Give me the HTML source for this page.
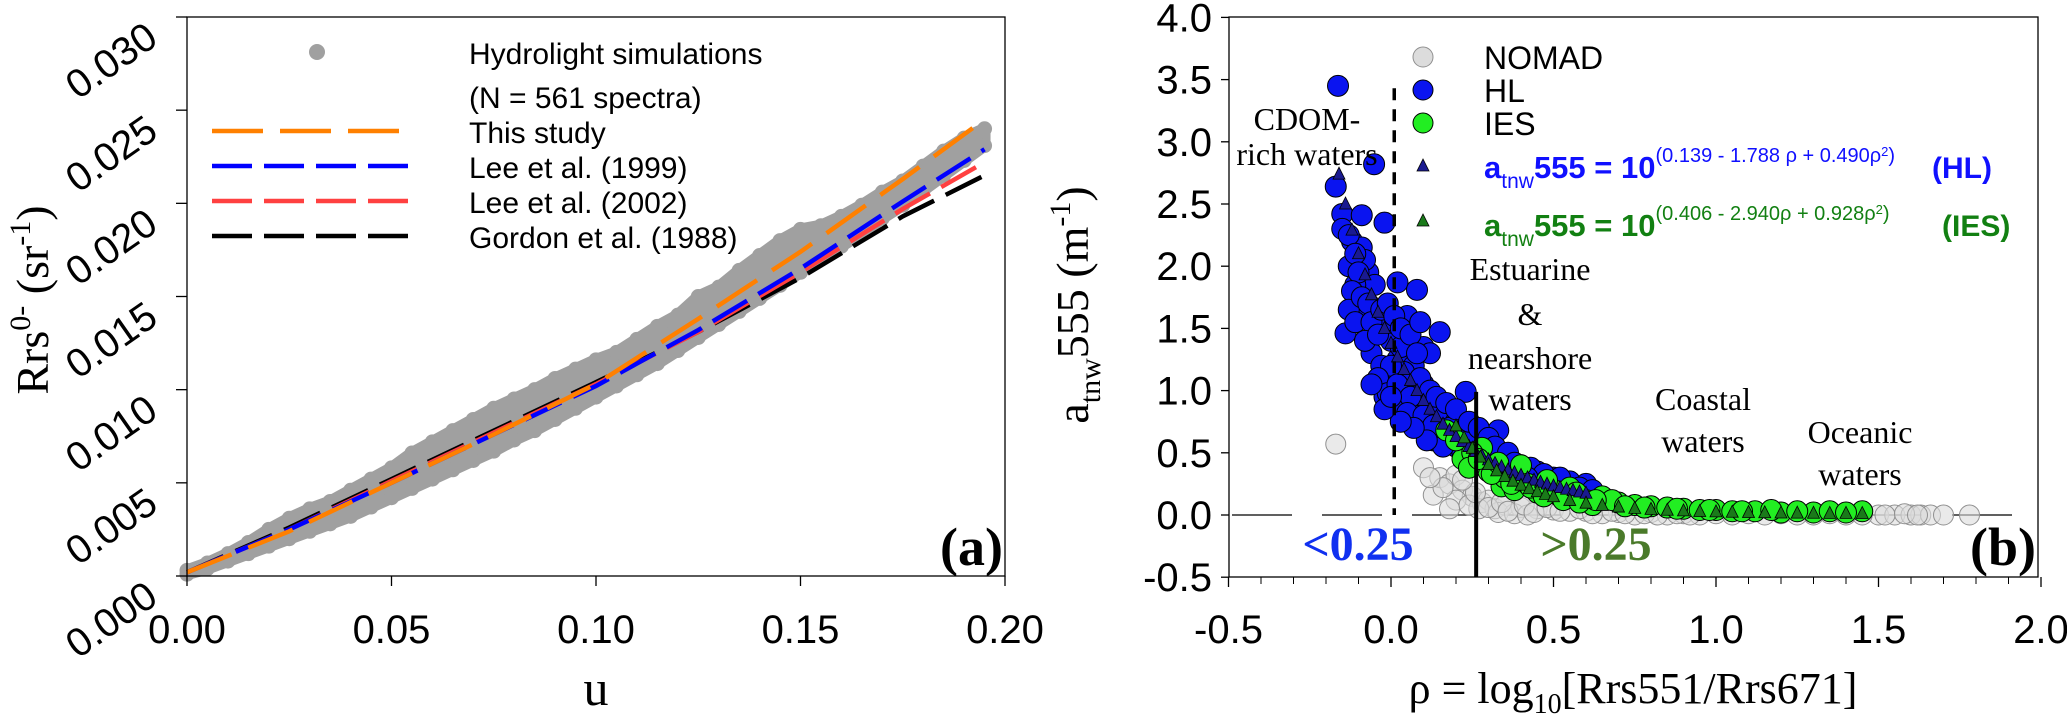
<!DOCTYPE html>
<html><head><meta charset="utf-8">
<style>
html,body{margin:0;padding:0;background:#fff;}
svg{display:block;}
text{font-family:"Liberation Sans",sans-serif;}
.serif{font-family:"Liberation Serif",serif;}
</style></head>
<body>
<svg id="fig" width="2067" height="720" viewBox="0 0 2067 720" xmlns="http://www.w3.org/2000/svg"></svg>
<script>
// ---------- Panel (a) data ----------
const lineU = [0,0.025,0.05,0.075,0.1,0.125,0.15,0.175,0.195];
const thisStudy = [0.0002,0.0024,0.0050,0.0076,0.0103,0.0138,0.0174,0.0213,0.0245];
const lee1999   = [0.0002,0.0025,0.0050,0.0076,0.0102,0.0132,0.0165,0.0201,0.0229];
const lee2002   = [0.0002,0.0025,0.0051,0.0077,0.0103,0.0131,0.0163,0.0197,0.0222];
const gordon1988= [0.0002,0.0026,0.0052,0.0078,0.0104,0.0131,0.0160,0.0193,0.0215];
const simU = [0,0.005,0.01,0.015,0.02,0.025,0.03,0.035,0.04,0.045,0.05,0.055,0.06,0.065,0.07,0.075,0.08,0.085,0.09,0.095,0.1,0.105,0.11,0.115,0.12,0.125,0.13,0.135,0.14,0.145,0.15,0.155,0.16,0.165,0.17,0.175,0.18,0.185,0.19,0.195];
const simUpper = [0.0003,0.0007,0.0012,0.0018,0.0025,0.0031,0.0036,0.0040,0.0046,0.0052,0.0058,0.0066,0.0072,0.0078,0.0084,0.0090,0.0095,0.0100,0.0106,0.0111,0.0116,0.0120,0.0127,0.0134,0.0140,0.0150,0.0155,0.0164,0.0172,0.0180,0.0186,0.0188,0.0193,0.0199,0.0206,0.0212,0.0220,0.0228,0.0235,0.0240];
const simLower = [0.0001,0.0004,0.0008,0.0012,0.0016,0.0020,0.0024,0.0028,0.0032,0.0037,0.0042,0.0047,0.0052,0.0057,0.0062,0.0067,0.0073,0.0078,0.0084,0.0090,0.0096,0.0102,0.0108,0.0114,0.0121,0.0128,0.0135,0.0142,0.0149,0.0156,0.0163,0.0170,0.0177,0.0184,0.0192,0.0199,0.0207,0.0215,0.0223,0.0231];
const xTicksA = ["0.00","0.05","0.10","0.15","0.20"];
const yTicksA = ["0.000","0.005","0.010","0.015","0.020","0.025","0.030"];

// ---------- Panel (b) data ----------
const hlRho = [-0.163,-0.052,-0.17,-0.15,-0.09,-0.02,-0.12,-0.09,-0.13,-0.07,-0.05,0.02,0.08,-0.14,-0.10,-0.08,-0.05,0.0,0.05,0.15,0.10,-0.06,-0.03,0.02,0.07,0.0,0.05,0.10,-0.02,0.03,0.08,0.12,0.16,0.23,0.20,0.15,0.10,0.25,0.30,0.33,0.35,0.40,0.45,0.50,0.55,0.60,0.20,0.13,0.08,0.0,-0.05,-0.11,-0.08,0.03,0.18,0.23,0.28,0.38,0.42,0.48,
 -0.15,-0.13,-0.11,-0.10,-0.12,-0.13,-0.11,-0.09,-0.07,-0.06,-0.08,-0.04,-0.03,-0.01,0.01,0.03,0.06,0.09,0.12,0.08,0.04,0.0,-0.04,-0.01,0.02,0.06,0.09,0.12,0.14,0.17,0.05,0.10,0.13,0.17,0.20,0.24,0.27,0.30,0.32,0.36,0.38,0.43,0.47,0.52,0.26,0.22,0.16,0.11,0.07,0.03,-0.02,0.0,-0.06,0.58,0.62,0.42];
const hlA   = [3.45,2.82,2.64,2.42,2.41,2.35,2.20,2.15,2.00,1.95,1.85,1.87,1.81,1.46,1.70,1.60,1.50,1.55,1.60,1.47,1.35,1.30,1.20,1.25,1.20,1.05,1.00,1.05,0.95,0.85,0.85,0.80,0.85,0.99,0.75,0.65,0.70,0.55,0.50,0.68,0.45,0.40,0.35,0.30,0.27,0.25,0.55,0.60,0.95,1.40,1.65,1.85,2.05,1.35,0.70,0.62,0.40,0.30,0.28,0.22,
 2.30,2.25,2.10,1.95,1.80,1.65,1.55,1.75,1.70,1.55,1.40,1.45,1.65,1.70,1.60,1.50,1.45,1.55,1.30,1.30,1.15,1.20,1.10,0.98,1.05,0.95,1.10,1.00,0.95,0.90,0.82,0.80,0.72,0.62,0.85,0.75,0.70,0.62,0.55,0.50,0.42,0.38,0.33,0.30,0.45,0.50,0.55,0.60,0.70,0.75,0.85,0.95,1.05,0.22,0.20,0.30];
const iesRho = [0.17,0.28,0.34,0.40,0.22,0.25,0.30,0.35,0.38,0.42,0.45,0.50,0.52,0.55,0.60,0.65,0.70,0.75,0.80,0.85,0.90,0.95,1.00,1.05,1.12,1.20,1.30,1.45,0.48,0.57,0.68,0.62,
 0.20,0.24,0.27,0.31,0.33,0.37,0.43,0.47,0.53,0.58,0.63,0.72,0.78,0.88,0.98,1.08,1.17,1.25,1.35,1.40];
const iesA   = [0.68,0.54,0.23,0.40,0.45,0.50,0.35,0.30,0.20,0.25,0.18,0.20,0.15,0.22,0.12,0.15,0.10,0.08,0.07,0.06,0.05,0.04,0.04,0.03,0.03,0.02,0.02,0.03,0.28,0.18,0.12,0.08,
 0.60,0.38,0.45,0.33,0.42,0.25,0.22,0.15,0.12,0.10,0.12,0.07,0.06,0.05,0.04,0.03,0.04,0.03,0.03,0.02];
const nomadRho = [-0.17,0.13,0.10,0.15,0.18,0.20,0.22,0.25,0.28,0.30,0.32,0.35,0.40,0.45,0.50,0.55,0.60,0.70,0.80,0.90,1.00,1.10,1.20,1.30,1.40,1.50,1.55,1.60,1.63,1.66,1.70,1.78,0.27,0.33,0.38,0.42,0.65,0.75,0.85,0.95,
 0.20,0.24,0.26,0.30,0.34,0.36,0.41,0.44,0.48,0.52,0.58,0.62,0.68,0.72,0.78,0.82,0.88,0.92,1.05,1.15,1.25,1.35,1.45,1.52,1.58,1.62,0.16,0.12,0.22,0.18];
const nomadA   = [0.57,0.16,0.38,0.30,0.25,0.32,0.20,0.15,0.10,0.12,0.05,0.08,0.06,0.05,0.04,0.03,0.03,0.02,0.02,0.01,0.01,0.01,0.01,0.0,0.0,0.0,0.0,0.0,0.0,0.0,0.0,0.0,0.05,0.02,0.01,0.0,0.01,0.0,0.0,0.0,
 0.12,0.08,0.18,0.06,0.10,0.03,0.08,0.02,0.06,0.03,0.05,0.01,0.03,0.01,0.01,0.0,0.01,0.0,0.0,0.0,0.0,0.01,0.0,0.0,0.01,0.0,0.22,0.30,0.28,0.05];
const hlModelRho = [-0.16,-0.14,-0.12,-0.10,-0.08,-0.06,-0.04,-0.02,0,0.02,0.04,0.06,0.08,0.10,0.12,0.14,0.16,0.18,0.20,0.22,0.24,0.26,0.28,0.30,0.32,0.34,0.36,0.38,0.40,0.42,0.44,0.46,0.48,0.50,0.52,0.54,0.56,0.58,0.60];
const hlModelA   = [2.74,2.50,2.29,2.10,1.93,1.77,1.63,1.50,1.38,1.27,1.17,1.08,1.00,0.92,0.85,0.79,0.73,0.68,0.63,0.59,0.55,0.51,0.475,0.443,0.414,0.387,0.362,0.339,0.318,0.298,0.280,0.263,0.248,0.233,0.220,0.207,0.196,0.185,0.175];
const iesModelRho = [0.20,0.225,0.25,0.275,0.30,0.325,0.35,0.375,0.40,0.425,0.45,0.475,0.50,0.55,0.60,0.65,0.70,0.75,0.80,0.85,0.90,0.95,1.00,1.05,1.10,1.15,1.20,1.25,1.30,1.35,1.40,1.45];
const iesModelA   = [0.716,0.62,0.536,0.465,0.405,0.355,0.310,0.272,0.239,0.211,0.187,0.166,0.147,0.117,0.095,0.077,0.064,0.053,0.045,0.038,0.033,0.028,0.025,0.022,0.020,0.018,0.016,0.015,0.014,0.013,0.013,0.012];
const xTicksB = ["-0.5","0.0","0.5","1.0","1.5","2.0"];
const yTicksB = ["-0.5","0.0","0.5","1.0","1.5","2.0","2.5","3.0","3.5","4.0"];

const NS = "http://www.w3.org/2000/svg";
const svg = document.getElementById('fig');
function mk(tag, attrs, parent){
  const e = document.createElementNS(NS, tag);
  for (const k in attrs) e.setAttribute(k, attrs[k]);
  (parent||svg).appendChild(e);
  return e;
}
const xA = u => 187 + (u/0.2)*818;
const yA = r => 576 - (r/0.030)*559;
const xB = p => 1391 + p*325;
const yB = a => 515 - a*124.4;

// ===== Panel (a) =====
const gA = mk('g',{});



let pts = simU.map((u,i)=>xA(u)+','+yA(simUpper[i])).join(' ') + ' ' +
          simU.slice().reverse().map((u,j)=>{const i=simU.length-1-j;return xA(u)+','+yA(simLower[i]);}).join(' ');
const band = mk('polygon',{points:pts, fill:'#a0a0a0',stroke:'#a0a0a0','stroke-width':12,'stroke-linejoin':'round'}, gA);


simU.forEach((u,i)=>{
  const c1 = mk('circle',{cx:xA(u),cy:yA(simUpper[i]),r:7.5,fill:'#a0a0a0'}, gA);
  
  
  const c2 = mk('circle',{cx:xA(u),cy:yA(simLower[i]),r:7.5,fill:'#a0a0a0'}, gA);
  
  
});
const seriesA = [
  {d:gordon1988,c:'#000000',n:'gordon-1988-line',dash:'40 13'},
  {d:lee2002,c:'#ff4040',n:'lee-2002-line',dash:'40 13'},
  {d:lee1999,c:'#0000ff',n:'lee-1999-line',dash:'40 13'},
  {d:thisStudy,c:'#ff8000',n:'this-study-line',dash:'48 18'}
];
seriesA.forEach(s=>{
  const pl = mk('polyline',{points:lineU.map((u,i)=>xA(u)+','+yA(s.d[i])).join(' '),fill:'none',stroke:s.c,'stroke-width':4.5,'stroke-dasharray':s.dash}, gA);
  
  
});
const frA = mk('rect',{x:187,y:17,width:818,height:559,fill:'none',stroke:'#000','stroke-width':1.3}, gA);


xTicksA.forEach((t,i)=>{
  const x = xA(i*0.05);
  mk('line',{x1:x,y1:576,x2:x,y2:586,stroke:'#000','stroke-width':1.3}, gA);
  const tx = mk('text',{x:x,y:643,'text-anchor':'middle','font-size':40}, gA);
  tx.textContent = t;
  
  
});
yTicksA.forEach((t,i)=>{
  const y = yA(i*0.005);
  mk('line',{x1:176,y1:y,x2:187,y2:y,stroke:'#000','stroke-width':1.3}, gA);
  const tx = mk('text',{x:160,y:y+26,'text-anchor':'end','font-size':40,transform:`rotate(-35 160 ${y+26})`}, gA);
  tx.textContent = t;
  
  
});
const xtA = mk('text',{x:596,y:705,'text-anchor':'middle','font-size':50,class:'serif'}, gA);
xtA.textContent='u';


const ytA = mk('text',{x:0,y:0,'text-anchor':'middle','font-size':46,class:'serif',transform:'translate(48 300) rotate(-90)'}, gA);
ytA.innerHTML = 'Rrs<tspan dy="-18" font-size="30">0-</tspan><tspan dy="18"> (sr</tspan><tspan dy="-18" font-size="30">-1</tspan><tspan dy="18">)</tspan>';


const labA = mk('text',{x:1003,y:565,'text-anchor':'end','font-size':54,'font-weight':'bold',class:'serif'}, gA);
labA.textContent='(a)';


const legA = mk('g',{}, gA);


const ldot = mk('circle',{cx:317,cy:52,r:8,fill:'#a0a0a0'}, legA);


const legRows = [
  {t:'Hydrolight simulations',y:64},{t:'(N = 561 spectra)',y:108},{t:'This study',y:143,c:'#ff8000',ly:131,dash:'51 17'},
  {t:'Lee et al. (1999)',y:178,c:'#0000ff',ly:166,dash:'40 12'},{t:'Lee et al. (2002)',y:213,c:'#ff4040',ly:201,dash:'40 12'},
  {t:'Gordon et al. (1988)',y:248,c:'#000',ly:236,dash:'40 12'}];
legRows.forEach(r=>{
  const tx = mk('text',{x:469,y:r.y,'font-size':30}, legA);
  tx.textContent = r.t;
  
  
  if (r.c){
    const l = mk('line',{x1:212,y1:r.ly,x2:408,y2:r.ly,stroke:r.c,'stroke-width':4.5,'stroke-dasharray':r.dash}, legA);
    
    
  }
});

// ===== Panel (b) =====
const gB = mk('g',{});


const zero = mk('line',{x1:1232,y1:yB(0),x2:2037,y2:yB(0),stroke:'#000','stroke-width':1.3,'stroke-dasharray':'60 30'}, gB);


nomadRho.forEach((p,i)=>{
  const c = mk('circle',{cx:xB(p),cy:yB(nomadA[i]),r:10,fill:'#dcdcdc','fill-opacity':0.6,stroke:'#909090','stroke-width':1}, gB);
  
  
});
hlRho.forEach((p,i)=>{
  const c = mk('circle',{cx:xB(p),cy:yB(hlA[i]),r:10.5,fill:'#0a14f0',stroke:'#000','stroke-width':1}, gB);
  
  
});
iesRho.forEach((p,i)=>{
  const c = mk('circle',{cx:xB(p),cy:yB(iesA[i]),r:10.5,fill:'#22ee22',stroke:'#000','stroke-width':1}, gB);
  
  
});
function tri(x,y,fill,name,parent){
  const t = mk('polygon',{points:`${x},${y-7} ${x-6},${y+5} ${x+6},${y+5}`,fill:fill,stroke:'#000','stroke-width':0.8}, parent);
  
  
}
hlModelRho.forEach((p,i)=>tri(xB(p),yB(hlModelA[i]),'#1a1a90','hl-model-point',gB));
iesModelRho.forEach((p,i)=>tri(xB(p),yB(iesModelA[i]),'#1a7a1a','ies-model-point',gB));
const dv = mk('line',{x1:xB(0.01),y1:yB(3.43),x2:xB(0.01),y2:yB(0),stroke:'#000','stroke-width':3.5,'stroke-dasharray':'12 9'}, gB);


const sv = mk('line',{x1:xB(0.262),y1:yB(0.99),x2:xB(0.262),y2:577,stroke:'#000','stroke-width':4}, gB);


const frB = mk('rect',{x:1229,y:17,width:809,height:560,fill:'none',stroke:'#000','stroke-width':1.3}, gB);


xTicksB.forEach((t,i)=>{
  const x = xB(-0.5+i*0.5);
  mk('line',{x1:x,y1:577,x2:x,y2:587,stroke:'#000','stroke-width':1.3}, gB);
  const tx = mk('text',{x:x,y:643,'text-anchor':'middle','font-size':40}, gB);
  tx.textContent=t;
  
  
});
for(let k=-0.4;k<2.0;k+=0.1){ if(Math.abs(Math.round(k*2)-k*2)<1e-6) continue;
  const x = xB(k); mk('line',{x1:x,y1:577,x2:x,y2:584,stroke:'#000','stroke-width':1}, gB); }
yTicksB.forEach((t,i)=>{
  const y = yB(-0.5+i*0.5);
  mk('line',{x1:1221,y1:y,x2:1229,y2:y,stroke:'#000','stroke-width':1.3}, gB);
  const tx = mk('text',{x:1212,y:y+14,'text-anchor':'end','font-size':40}, gB);
  tx.textContent=t;
  
  
});
const xtB = mk('text',{x:1633,y:703,'text-anchor':'middle','font-size':44,class:'serif'}, gB);
xtB.innerHTML='ρ = log<tspan dy="10" font-size="28">10</tspan><tspan dy="-10">[Rrs551/Rrs671]</tspan>';


const ytB = mk('text',{x:0,y:0,'text-anchor':'middle','font-size':46,class:'serif',transform:'translate(1088 305) rotate(-90)'}, gB);
ytB.innerHTML='a<tspan dy="12" font-size="30">tnw</tspan><tspan dy="-12">555 (m</tspan><tspan dy="-18" font-size="30">-1</tspan><tspan dy="18">)</tspan>';


function txt(x,y,s,attrs,name){
  const a = Object.assign({x:x,y:y}, attrs);
  const t = mk('text',a,gB); t.innerHTML=s;
  
  
  return t;
}
const ser = {'text-anchor':'middle','font-size':32,class:'serif'};
txt(1307,130,'CDOM-',ser,'cdom-label');
txt(1307,165,'rich waters',ser,'cdom-label');
txt(1530,280,'Estuarine',ser,'estuarine-label');
txt(1530,325,'&amp;',ser,'estuarine-label');
txt(1530,369,'nearshore',ser,'estuarine-label');
txt(1530,410,'waters',ser,'estuarine-label');
txt(1703,410,'Coastal',ser,'coastal-label');
txt(1703,452,'waters',ser,'coastal-label');
txt(1860,443,'Oceanic',ser,'oceanic-label');
txt(1860,485,'waters',ser,'oceanic-label');
txt(1358,560,'&lt;0.25',{'text-anchor':'middle','font-size':48,'font-weight':'bold',class:'serif',fill:'#1030f0'},'lt-threshold-label');
txt(1596,560,'&gt;0.25',{'text-anchor':'middle','font-size':48,'font-weight':'bold',class:'serif',fill:'#4a7a2a'},'gt-threshold-label');
txt(2036,565,'(b)',{'text-anchor':'end','font-size':54,'font-weight':'bold',class:'serif'},'panel-label-b');
const legB = mk('g',{},gB);


const lm = [{y:57,f:'#dcdcdc',s:'#909090',t:'NOMAD'},{y:90,f:'#0a14f0',s:'#000',t:'HL'},{y:123,f:'#22ee22',s:'#000',t:'IES'}];
lm.forEach(m=>{
  const c = mk('circle',{cx:1423,cy:m.y,r:10,fill:m.f,stroke:m.s,'stroke-width':1},legB);
  
  
  const t = mk('text',{x:1484,y:m.y+12,'font-size':32},legB);
  t.textContent=m.t;
  
  
});
tri(1423,166,'#1a1a90','legend-hl-model-marker',legB);
tri(1423,221,'#1a7a1a','legend-ies-model-marker',legB);
const e1 = mk('text',{x:1484,y:178,'font-size':31,'font-weight':'bold',fill:'#1010ff'},legB);
e1.innerHTML='a<tspan dy="10" font-size="21" font-weight="normal">tnw</tspan><tspan dy="-10">555 = 10</tspan><tspan dy="-16" font-size="20" font-weight="normal">(0.139 - 1.788 ρ + 0.490ρ</tspan><tspan dy="-6" font-size="13" font-weight="normal">2</tspan><tspan dy="6" font-size="20" font-weight="normal">)</tspan>';


const e1t = mk('text',{x:1932,y:178,'font-size':30,'font-weight':'bold',fill:'#1010ff'},legB);
e1t.textContent='(HL)';


const e2 = mk('text',{x:1484,y:236,'font-size':31,'font-weight':'bold',fill:'#128012'},legB);
e2.innerHTML='a<tspan dy="10" font-size="21" font-weight="normal">tnw</tspan><tspan dy="-10">555 = 10</tspan><tspan dy="-16" font-size="20" font-weight="normal">(0.406 - 2.940ρ + 0.928ρ</tspan><tspan dy="-6" font-size="13" font-weight="normal">2</tspan><tspan dy="6" font-size="20" font-weight="normal">)</tspan>';


const e3 = mk('text',{x:1942,y:236,'font-size':30,'font-weight':'bold',fill:'#128012'},legB);
e3.textContent='(IES)';


</script>
</body></html>
